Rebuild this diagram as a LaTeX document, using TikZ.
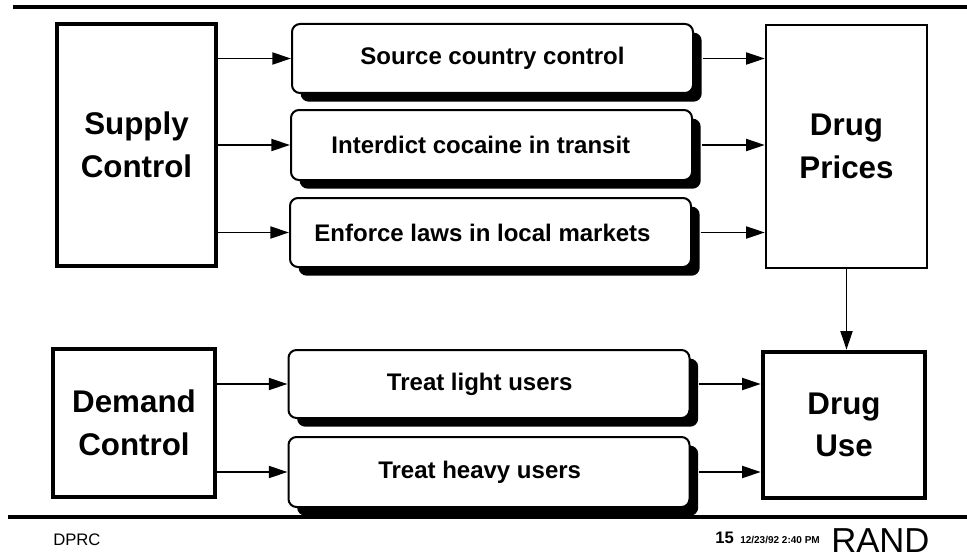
\documentclass[tikz,border=0pt]{standalone}
\usepackage{fontspec}
\setmainfont{Liberation Sans}
\usetikzlibrary{arrows.meta,shadows}
\begin{document}
\begin{tikzpicture}[x=0.75pt,y=-0.75pt,
  bigbox/.style={draw=black, line width=3.4pt, fill=white, inner sep=0pt,
    font=\bfseries\fontsize{23.5}{32}\selectfont, align=center},
  thinbig/.style={bigbox, line width=1.8pt},
  pill/.style={draw=black, line width=1.5pt, fill=white, rounded corners=6pt,
    inner sep=0pt, minimum width=300.75pt,
    font=\bfseries\fontsize{18}{21}\selectfont,
    drop shadow={shadow xshift=6.5pt, shadow yshift=-6.5pt, fill=black, opacity=1}},
  conn/.style={line width=1.4pt, -{Triangle[length=14pt,width=9pt]}},
  rule/.style={line width=2.4pt}]
\useasboundingbox (0,0) rectangle (967,560);
% header / footer rules
\coordinate (tl) at (13,7);
\coordinate (tr) at (967,7);
\draw[rule] (tl) -- (tr);
\coordinate (bl) at (8,517);
\coordinate (br) at (967,517);
% boxes
\node[bigbox, minimum width=119.25pt, minimum height=181.5pt] (supply) at (136.5,145) {Supply\\Control};
\node[pill, minimum height=51.75pt] (r1) at (492.5,58.5) {Source country control};
\node[pill, minimum height=52.5pt] (r2) at (491.5,145) {\hspace*{-16pt}Interdict cocaine in transit};
\node[pill, minimum height=51.75pt] (r3) at (490.5,232.5) {\hspace*{-12pt}Enforce laws in local markets};
\node[thinbig, minimum width=120.75pt, minimum height=182.25pt] (prices) at (846.5,146.5) {Drug\\Prices};

\node[bigbox, minimum width=121.5pt, minimum height=111pt] (demand) at (134,423) {Demand\\Control};
\node[pill, minimum height=51pt] (r4) at (489,384) {\hspace*{-14pt}Treat light users};
\node[pill, minimum height=52.5pt] (r5) at (489,472) {\hspace*{-14pt}Treat heavy users};
\node[bigbox, minimum width=121.5pt, minimum height=109.5pt] (use) at (844,425) {Drug\\Use};
\draw[rule] (bl) -- (br);
% connectors
\foreach \r in {r1,r2,r3}{
  \draw[conn] (supply.east |- \r) -- (\r.west);
  \draw[conn] ([xshift=6.5pt]\r.east) -- (prices.west |- \r);
}
\foreach \r in {r4,r5}{
  \draw[conn] (demand.east |- \r) -- (\r.west);
  \draw[conn] ([xshift=6.5pt]\r.east) -- (use.west |- \r);
}
\draw[conn] (prices.south) -- (prices.south |- use.north);
% footer text
\node[anchor=base west, inner sep=0pt, font=\fontsize{12.5}{14}\selectfont] (dprc) at (53,545) {DPRC};
\node[anchor=base west, inner sep=0pt, font=\bfseries\fontsize{12.5}{14}\selectfont] (pg) at (715,543) {15};
\node[anchor=base west, inner sep=0pt, font=\bfseries\fontsize{7.5}{9}\selectfont] (date) at (740,543) {12/23/92 2:40 PM};
\node[anchor=base west, inner sep=0pt, font=\fontsize{26}{28}\selectfont] (rand) at (831,552) {RAND};
\end{tikzpicture}
\end{document}
